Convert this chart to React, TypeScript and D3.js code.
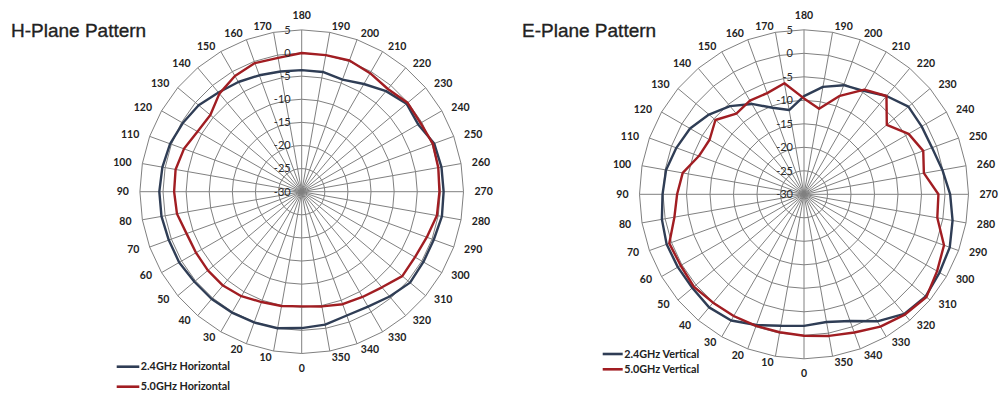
import React from "react";
import * as d3 from "d3";

// Angle categories (degrees)
const ANGLES = [0, 10, 20, 30, 40, 50, 60, 70, 80, 90, 100, 110, 120, 130, 140, 150, 160, 170,
  180, 190, 200, 210, 220, 230, 240, 250, 260, 270, 280, 290, 300, 310, 320, 330, 340, 350];

// Radial axis ticks (dB)
const RADIAL_TICKS = [-30, -25, -20, -15, -10, -5, 0, 5];

// H-Plane
const H_24 = [-0.5, 0.0, 0.1, 0.2, 0.3, 0.3, 0.6, 0.6, 0.8, 0.8, 0.6, 0.3, -0.3, -0.9, -2.0, -2.6, -3.2, -3.6,
  -3.7, -3.7, -4.2, -3.1, -1.6, -0.4, -0.9, 0.5, 0.7, 0.7, 0.8, 0.4, 0.4, 0.6, -0.4, -1.3, -1.5, -0.8];
const H_50 = [-5.2, -4.9, -4.6, -3.9, -3.5, -3.5, -3.6, -3.5, -2.6, -2.4, -2.3, -2.9, -4.0, -4.2, -2.3, -1.1, -0.4, -0.6,
  0.0, 0.0, 0.2, -0.4, -1.0, -0.1, -0.3, 0.2, 0.0, -0.2, -0.3, -1.2, -1.7, -1.6, -3.0, -3.7, -4.1, -4.8];

// E-Plane
const E_24 = [-2.0, -1.6, -0.4, 1.0, 1.4, 1.0, 1.0, 1.1, 0.7, 0.1, -0.2, -1.1, -2.0, -3.6, -5.5, -7.8, -10.4, -11.8,
  -9.1, -6.8, -5.3, -4.6, -2.7, -1.0, -1.1, -1.0, -0.1, 1.1, 2.1, 3.0, 3.3, 3.8, 3.2, 1.2, -1.3, -2.4];
const E_50 = [0.1, -0.2, -0.2, -0.1, 0.1, 0.6, 0.3, 0.5, -2.0, -3.0, -3.8, -6.2, -6.8, -5.4, -7.6, -7.0, -7.1, -6.0,
  -9.6, -11.5, -7.7, -4.3, -2.7, -7.0, -4.3, -3.0, -4.1, -1.4, -1.2, 1.7, 2.7, 4.0, 3.4, 2.5, 1.3, 0.6];

const BLUE = "#2f3d55";
const RED = "#a11d22";
const GRID = "#808080";
const TEXT = "#222";
const LABEL_FONT = "Lato, 'Open Sans', sans-serif";

type Series = { name: string; values: number[]; color: string };

function Polar({ cx, cy, R, series }: { cx: number; cy: number; R: number; series: Series[] }) {
  const r = d3.scaleLinear().domain([RADIAL_TICKS[0], RADIAL_TICKS[RADIAL_TICKS.length - 1]]).range([0, R]);
  const rad = (deg: number) => ((deg + 180) * Math.PI) / 180;
  const pt = (deg: number, rr: number): [number, number] => {
    const a = (deg * Math.PI) / 180;
    return [cx - rr * Math.sin(a), cy + rr * Math.cos(a)];
  };
  const ringLine = d3
    .lineRadial<number>()
    .angle((d) => rad(d))
    .curve(d3.curveLinearClosed);
  const seriesLine = d3
    .lineRadial<[number, number]>()
    .angle((d) => rad(d[0]))
    .radius((d) => r(d[1]))
    .curve(d3.curveLinearClosed);

  return (
    <g>
      {RADIAL_TICKS.slice(1).map((t) => (
        <path
          key={"ring" + t}
          d={ringLine.radius(() => r(t))(ANGLES) || ""}
          transform={`translate(${cx},${cy})`}
          fill="none"
          stroke={GRID}
          strokeWidth={1}
        />
      ))}
      {ANGLES.map((a) => {
        const [x, y] = pt(a, R);
        return <line key={"sp" + a} x1={cx} y1={cy} x2={x} y2={y} stroke={GRID} strokeWidth={1} />;
      })}
      {series.map((s) => (
        <path
          key={s.name}
          d={seriesLine(ANGLES.map((a, i) => [a, s.values[i]] as [number, number])) || ""}
          transform={`translate(${cx},${cy})`}
          fill="none"
          stroke={s.color}
          strokeWidth={2.4}
          strokeLinejoin="round"
        />
      ))}
      {RADIAL_TICKS.map((t) => (
        <text
          key={"v" + t}
          x={cx - 11}
          y={cy - r(t)}
          dy="0.35em"
          textAnchor="end"
          fontSize={11}
          fontFamily={LABEL_FONT}
          fill="#2a2a2a"
        >
          {t}
        </text>
      ))}
      {ANGLES.map((a) => {
        const [ex, ey] = pt(a, R);
        const s = Math.sin((a * Math.PI) / 180);
        const c = Math.cos((a * Math.PI) / 180);
        let x = ex;
        let y = ey;
        let anchor: "start" | "middle" | "end" = "middle";
        if (a === 0) {
          y = ey + 14.6;
        } else if (a === 180) {
          y = ey - 14.6;
        } else {
          x = ex - 11 * s;
          y = ey + 6.4 * c;
          anchor = s > 0 ? "end" : "start";
        }
        return (
          <text
            key={"a" + a}
            x={x}
            y={y}
            dy="0.35em"
            textAnchor={anchor}
            fontSize={10.5}
            fontWeight={700}
            fontFamily={LABEL_FONT}
            fill={TEXT}
          >
            {a}
          </text>
        );
      })}
    </g>
  );
}

function Legend({ x, y, gap, len, items }: { x: number; y: number; gap: number; len: number; items: Series[] }) {
  return (
    <g>
      {items.map((s, i) => (
        <g key={s.name}>
          <line x1={x} x2={x + len} y1={y + i * gap} y2={y + i * gap} stroke={s.color} strokeWidth={2.6} />
          <text
            x={x + len + 1.5}
            y={y + i * gap}
            dy="0.35em"
            fontSize={10.8}
            fontWeight={700}
            fontFamily={LABEL_FONT}
            fill={TEXT}
          >
            {s.name}
          </text>
        </g>
      ))}
    </g>
  );
}

export default function App() {
  const hSeries: Series[] = [
    { name: "2.4GHz Horizontal", values: H_24, color: BLUE },
    { name: "5.0GHz Horizontal", values: H_50, color: RED },
  ];
  const eSeries: Series[] = [
    { name: "2.4GHz Vertical", values: E_24, color: BLUE },
    { name: "5.0GHz Vertical", values: E_50, color: RED },
  ];
  const titleStyle = {
    fontSize: 19,
    fontFamily: "'Liberation Sans', Arial, sans-serif",
    fill: TEXT,
    stroke: TEXT,
    strokeWidth: 0.35,
  };
  return (
    <svg width={1004} height={395} style={{ position: "absolute", left: 0, top: 0, background: "#fff" }}>
      <rect x={0} y={0} width={1004} height={395} fill="#fff" />
      <text x={11} y={36.5} style={titleStyle}>
        H-Plane Pattern
      </text>
      <text x={522} y={36.5} style={titleStyle}>
        E-Plane Pattern
      </text>
      <Polar cx={301.7} cy={191.7} R={161.8} series={hSeries} />
      <Polar cx={804} cy={194.3} R={164.5} series={eSeries} />
      <Legend x={116.7} y={366.7} gap={20} len={22.6} items={hSeries} />
      <Legend x={602.7} y={354} gap={15.3} len={20} items={eSeries} />
    </svg>
  );
}
